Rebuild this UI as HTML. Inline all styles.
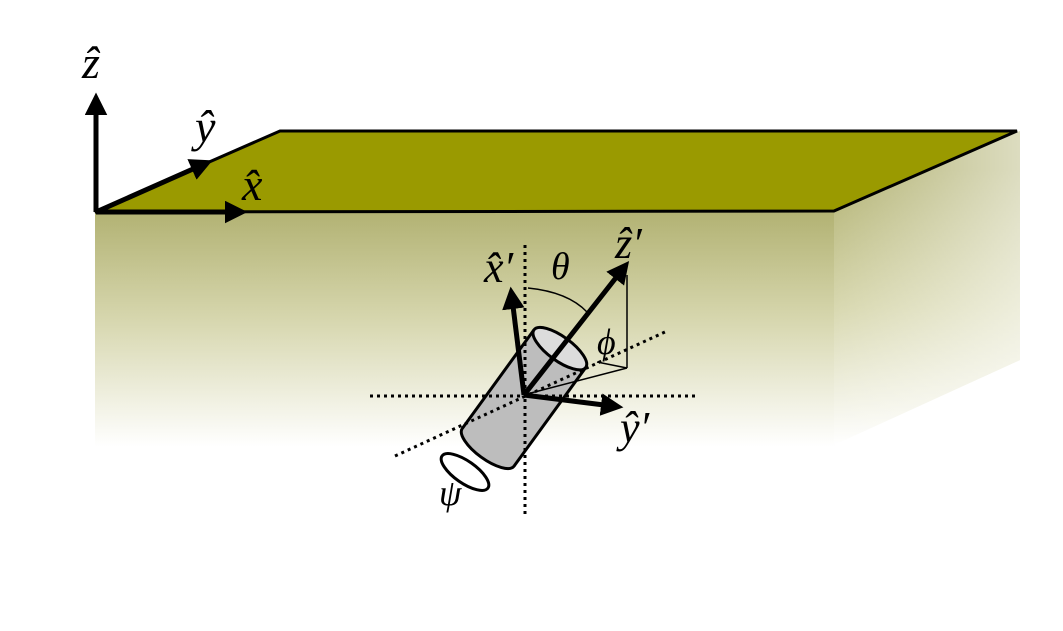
<!DOCTYPE html>
<html><head><meta charset="utf-8"><style>
body{margin:0;background:#fff}
svg{display:block}
text{font-family:"Liberation Serif",serif;font-style:italic;fill:#000}
</style></head><body>
<svg width="1063" height="631" viewBox="0 0 1063 631">
<defs>
<linearGradient id="front" x1="0" y1="0" x2="0" y2="1">
<stop offset="0" stop-color="#b2b273"/><stop offset="0.45" stop-color="#d6d6ad"/><stop offset="1" stop-color="#ffffff"/>
</linearGradient>
<linearGradient id="side" gradientUnits="userSpaceOnUse" x1="0" y1="170" x2="0" y2="445">
<stop offset="0" stop-color="#b2b273"/><stop offset="0.5" stop-color="#d8d8b0"/><stop offset="1" stop-color="#ffffff"/>
</linearGradient>
<linearGradient id="sidefade" gradientUnits="userSpaceOnUse" x1="834" y1="0" x2="1020" y2="0">
<stop offset="0" stop-color="#fff" stop-opacity="0"/><stop offset="1" stop-color="#fff" stop-opacity="0.55"/>
</linearGradient>
<marker id="ah" markerWidth="4.5" markerHeight="4.5" refX="2.2" refY="2.25" orient="auto" markerUnits="strokeWidth"><path d="M0,0 L4.5,2.25 L0,4.5 z" fill="#000"/></marker>
</defs>
<rect x="95" y="212" width="740" height="235" fill="url(#front)"/>
<polygon points="834,211 1020,131 1020,360 834,445" fill="url(#side)"/>
<polygon points="834,211 1020,131 1020,360 834,445" fill="url(#sidefade)"/>
<polygon points="95,212 280,131 1017,131 834,211" fill="#9a9a00" stroke="#000" stroke-width="3"/>
<g stroke="#000" stroke-width="5" fill="none">
<line x1="96" y1="212" x2="96" y2="104" marker-end="url(#ah)"/>
<line x1="96" y1="212" x2="236" y2="212" marker-end="url(#ah)"/>
<line x1="96" y1="212" x2="202" y2="165" marker-end="url(#ah)"/>
</g>
<text x="82" y="78" font-size="46">ẑ</text>
<text x="195" y="142" font-size="46">ŷ</text>
<text x="242" y="200" font-size="46">x̂</text>
<g transform="translate(524,398) rotate(36)">
<ellipse cx="0" cy="61" rx="32" ry="12" fill="#bdbdbd" stroke="#000" stroke-width="3"/>
<rect x="-31" y="-61" width="62" height="122" fill="#bdbdbd"/>
<line x1="-32" y1="-61" x2="-32" y2="61" stroke="#000" stroke-width="3"/>
<line x1="32" y1="-61" x2="32" y2="61" stroke="#000" stroke-width="3"/>
<ellipse cx="0" cy="-61" rx="32" ry="12" fill="#dcdcdc" stroke="#000" stroke-width="3"/>
</g>
<g stroke="#000" stroke-width="3" stroke-dasharray="3,4" fill="none">
<line x1="525" y1="245" x2="525" y2="518"/>
<line x1="370" y1="396" x2="697" y2="396"/>
<line x1="395" y1="456" x2="665" y2="332"/>
</g>
<g stroke="#000" stroke-width="1.5" fill="none">
<line x1="627" y1="275" x2="627" y2="368"/>
<line x1="627" y1="368" x2="527" y2="394"/>
<line x1="597" y1="362" x2="627" y2="368"/>
<path d="M528,288 Q568,292 587,312"/>
</g>
<g stroke="#000" stroke-width="5" fill="none">
<line x1="524" y1="395" x2="622" y2="270" marker-end="url(#ah)"/>
<line x1="524" y1="395" x2="512" y2="298" marker-end="url(#ah)"/>
<line x1="524" y1="395" x2="612" y2="406" marker-end="url(#ah)"/>
</g>
<ellipse cx="465" cy="472" rx="28" ry="11" transform="rotate(35 465 472)" fill="none" stroke="#000" stroke-width="3"/>
<text x="615" y="258" font-size="44">ẑ′</text>
<text x="484" y="282" font-size="44">x̂′</text>
<text x="620" y="442" font-size="44">ŷ′</text>
<text x="551" y="279" font-size="38">θ</text>
<text x="597" y="354" font-size="36">ϕ</text>
<text x="439" y="505" font-size="36">ψ</text>
</svg>
</body></html>
